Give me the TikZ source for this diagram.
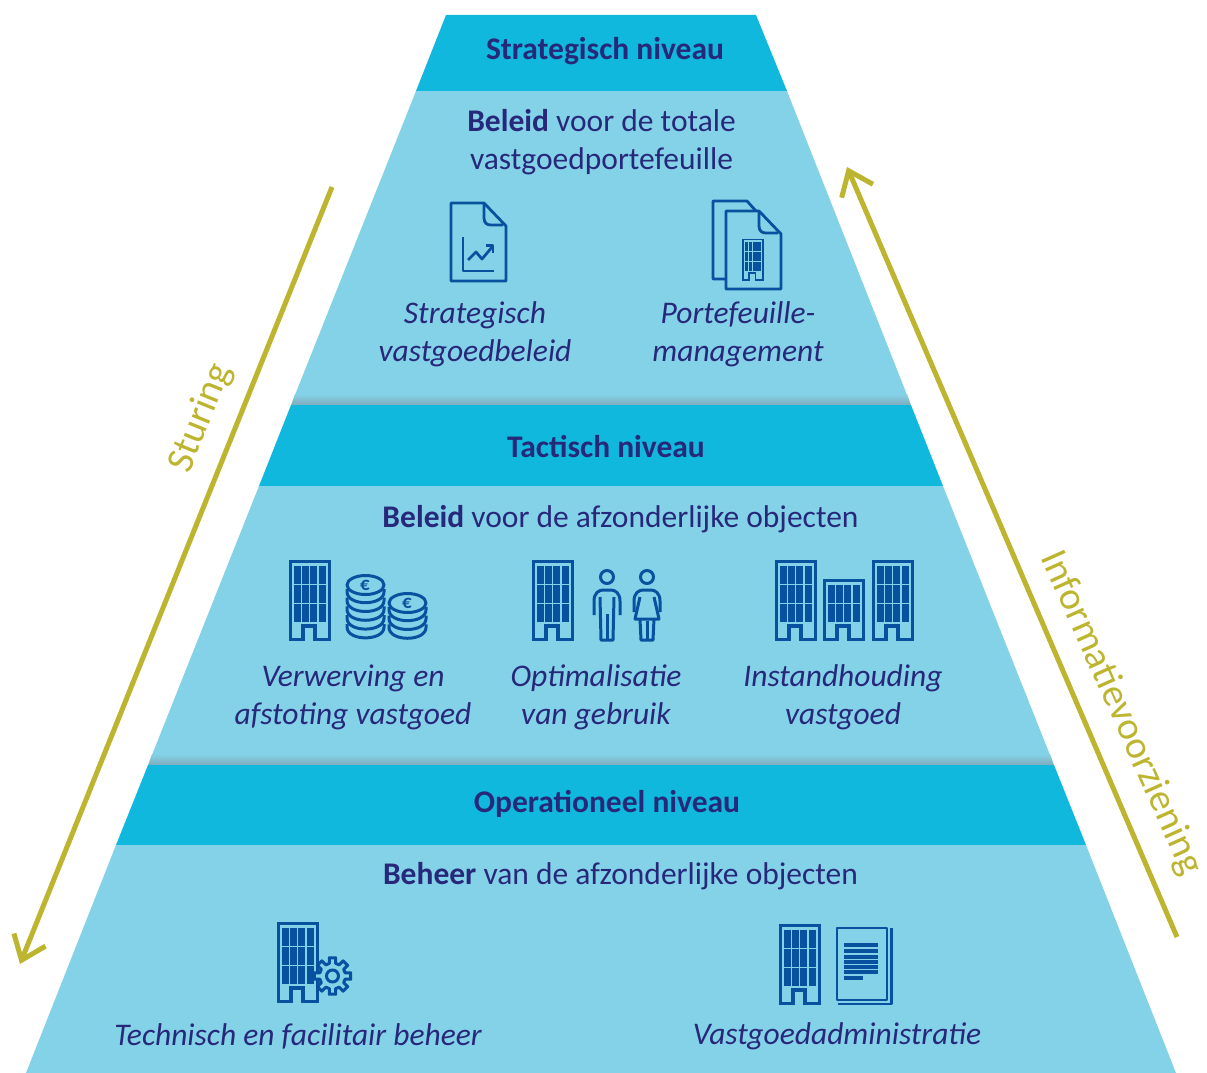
\documentclass[tikz,border=0pt]{standalone}
\usepackage{fontspec}
\setmainfont{Carlito}
\usetikzlibrary{arrows.meta}
\definecolor{navytext}{HTML}{27287A}
\definecolor{headband}{HTML}{0FB8DC}
\definecolor{bodyband}{HTML}{84D2E8}
\definecolor{shadeband}{HTML}{7FA8B8}
\definecolor{iconblue}{HTML}{07519F}
\definecolor{flowolive}{HTML}{BDB52F}
\tikzset{
  level/.style={font=\fontsize{31.5}{38}\selectfont\bfseries,text=navytext,align=center},
  body/.style={font=\fontsize{31.5}{38}\selectfont,text=navytext,align=center},
  task/.style={font=\fontsize{31.5}{38}\selectfont\itshape,text=navytext,align=center},
  flow/.style={line width=5pt,flowolive,-{Straight Barb[length=22pt,width=34pt]}},
  flowlabel/.style={font=\fontsize{39}{42}\selectfont,text=flowolive},
  icon/.style={line width=3pt,iconblue,line join=round},
  thinicon/.style={line width=2.8pt,iconblue,line join=round},
  eurosign/.style={font=\fontsize{19}{19}\selectfont\bfseries,text=iconblue},
}
% x,y = lower left corner, #3 = scale, #4 = rows of windows
\newcommand{\building}[4]{
  \begin{scope}[shift={(#1,#2)},scale=#3]
    \draw[iconblue,line width=#3*3.2pt,line join=miter] (1.5,-1.5) -- (14,-1.5) -- (14,-15) -- (26,-15) -- (26,-1.5) -- (40.5,-1.5) -- (40.5,{-22.5-19*#4}) -- (1.5,{-22.5-19*#4}) -- cycle;
    \foreach \r in {1,...,#4}
      \foreach \c in {0,...,3}
        \fill[iconblue] ({4.8+8.3*\c},{-19.3-19*(\r-1)}) rectangle +(6.8,-17.4);
  \end{scope}}
\newcommand{\coinstack}[3]{
  \draw[icon] (#1,#2) circle[x radius=18.5pt,y radius=9.5pt];
  \foreach \k in {1,...,#3}
    \draw[icon] ({#1-18.5},{#2+8.8*\k-5}) -- ({#1-18.5},{#2+8.8*\k-2}) .. controls ({#1-18.5},{#2+8.8*\k+12.5}) and ({#1+18.5},{#2+8.8*\k+12.5}) .. ({#1+18.5},{#2+8.8*\k-2}) -- ({#1+18.5},{#2+8.8*\k-5});}
\newcommand{\docpage}[2]{
  \draw[thinicon] (#1,#2) -- ({#1+33},#2) -- ({#1+55},{#2+23}) -- ({#1+55},{#2+78}) -- (#1,{#2+78}) -- cycle;
  \draw[thinicon] ({#1+33},#2) -- ({#1+33},{#2+15}) .. controls ({#1+33},{#2+20}) and ({#1+36},{#2+22}) .. ({#1+40},{#2+22}) -- ({#1+52},{#2+22});}

\begin{document}
\begin{tikzpicture}[x=1pt,y=-1pt]
    \useasboundingbox (0,0) rectangle (1207,1073);
    % the pyramid, top to bottom
    \fill[headband] (446,15) -- (756,15) -- (787,91) -- (416,91) -- cycle;
    \fill[bodyband] (416,91) -- (787,91) -- (911,405) -- (291,405) -- cycle;
    \shade[top color=bodyband,bottom color=shadeband] (295,394) -- (907,394) -- (911,406) -- (291,406) -- cycle;
    \fill[headband] (291,405) -- (911,405) -- (943,486) -- (259,486) -- cycle;
    \fill[bodyband] (259,486) -- (943,486) -- (1054,765) -- (148,765) -- cycle;
    \shade[top color=bodyband,bottom color=shadeband] (152,754) -- (1050,754) -- (1054,766) -- (148,766) -- cycle;
    \fill[headband] (148,765) -- (1054,765) -- (1086,845) -- (116,845) -- cycle;
    \fill[bodyband] (116,845) -- (1086,845) -- (1176,1073) -- (26,1073) -- cycle;
    \node[level] (strategisch) at (605,51) {Strategisch niveau};
    \node[level] (tactisch) at (606,446.5) {Tactisch niveau};
    \node[level] (operationeel) at (607,804) {Operationeel niveau};
    \node[body] (beleidtop) at (601.5,142) {\textbf{Beleid} voor de totale\\vastgoedportefeuille};
    \node[body] (beleidmid) at (620.5,519) {\textbf{Beleid} voor de afzonderlijke objecten};
    \node[body] (beheer) at (620.5,876.5) {\textbf{Beheer} van de afzonderlijke objecten};
    \node[task] (vastgoedbeleid) at (475,334) {Strategisch\\vastgoedbeleid};
    \node[task] (portefeuille) at (738,334) {Portefeuille-\\management};
    \node[task] (verwerving) at (353,697) {Verwerving en\\afstoting vastgoed};
    \node[task] (gebruik) at (596,697) {Optimalisatie\\van gebruik};
    \node[task] (instandhouding) at (843,697) {Instandhouding\\vastgoed};
    \node[task] (technisch) at (298,1036.5) {Technisch en facilitair beheer};
    \node[task] (administratie) at (837,1036.5) {Vastgoedadministratie};
    % document with chart
    \docpage{451}{203}
    \draw[thinicon] (463,237) -- (463,271) -- (494,271);
    \draw[thinicon] (468,260) -- (476,252) -- (482,259) -- (493,246);
    \draw[thinicon] (486,245.5) -- (493,245.5) -- (493,253);
    % two documents with building
    \draw[thinicon] (726,279) -- (713,279) -- (713,201) -- (747,201) -- (756,211);
    \docpage{726}{211}
    \building{742}{281}{0.52}{3}
    % building and coins
    \building{289}{641}{1}{3}
    \coinstack{365.5}{585}{5}
    \coinstack{407.5}{603}{3}
    \node[eurosign] (eurolarge) at (365,585) {€};
    \node[eurosign] (eurosmall) at (407,603) {€};
    % building and two people
    \building{532}{641}{1}{3}
    \draw[icon] (607,577) circle(6.5pt);
    \draw[icon] (594,615) -- (594,601) .. controls (594,593) and (599,590) .. (603,590) -- (611,590) .. controls (615,590) and (620,593) .. (620,601) -- (620,615);
    \draw[icon] (600,597) -- (601,640) -- (613,640) -- (614,597);
    \draw[icon] (607,614) -- (607,640);
    \draw[icon] (647,577) circle(6.5pt);
    \draw[icon] (634,612) -- (634,601) .. controls (634,593) and (639,590) .. (643,590) -- (651,590) .. controls (655,590) and (660,593) .. (660,601) -- (660,612);
    \draw[icon] (640,597) -- (635,619) -- (659,619) -- (654,597);
    \draw[icon] (640,619) -- (641,640) -- (653,640) -- (654,619);
    \draw[icon] (647,621) -- (647,640);
    % three buildings
    \building{775}{641}{1}{3}
    \building{823}{641}{1}{2}
    \building{872}{641}{1}{3}
    % building and gear
    \building{277}{1003}{1}{3}
    \begin{scope}[shift={(332.5,976)}]
      \draw[icon,fill=bodyband] (-14:13) \foreach \a in {0,45,...,315} {-- (\a-14:13) -- (\a-10:18.5) -- (\a+10:18.5) -- (\a+14:13)} -- cycle;
      \draw[icon] (0,0) circle(6pt);
    \end{scope}
    % building and text page
    \building{779}{1005}{1}{3}
    \draw[icon,line width=2.8pt] (837,928) rectangle (887,1000);
    \draw[icon,line width=2.8pt] (891.5,928) -- (891.5,1004) -- (838,1004);
    \foreach \l in {945,951,957,962,967,972}
      \draw[iconblue,line width=3.4pt] (844,\l) -- (878,\l);
    \draw[iconblue,line width=3.4pt] (844,978) -- (863,978);
    % side arrows
    \coordinate (sturingtop) at (332,187);
    \coordinate (sturingtip) at (20,964);
    \coordinate (infobottom) at (1177,937);
    \coordinate (infotip) at (847,167);
    \draw[flow] (sturingtop) -- (sturingtip);
    \draw[flow] (infobottom) -- (infotip);
    \node[flowlabel,rotate=68] (sturing) at (201,418) {Sturing};
    \node[flowlabel,rotate=-66] (informatie) at (1121,713) {Informatievoorziening};
\end{tikzpicture}
\end{document}
